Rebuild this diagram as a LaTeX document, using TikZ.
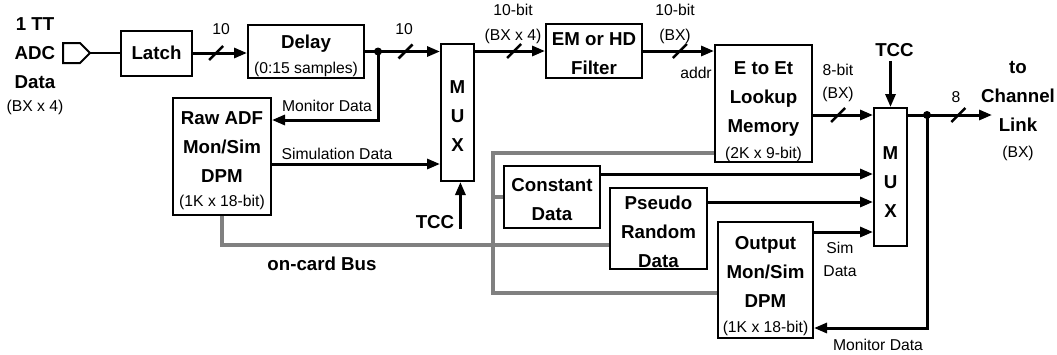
\documentclass[tikz,border=0pt]{standalone}
\usepackage{fontspec}
\setmainfont{Liberation Sans}
\usetikzlibrary{arrows.meta}

\newcommand{\smalltxt}[1]{{\fontsize{15.7}{19}\selectfont\mdseries #1}}
\newcommand{\firstline}[1]{\rule{0pt}{#1pt}}

\tikzset{
  blk/.style={draw, line width=2pt, align=center, inner sep=0pt,
    font=\fontsize{18.7}{29}\selectfont\bfseries},
  blbl/.style={inner sep=0pt, align=center, font=\fontsize{18.7}{29}\selectfont\bfseries},
  lbl/.style={inner sep=0pt, align=center, font=\fontsize{15.7}{25}\selectfont},
  conn/.style={line width=3pt, -{Triangle[length=13pt,width=10pt]}},
  gbus/.style={line width=4pt, draw=gray},
  busmark/.pic={\draw[line width=2.5pt,-] (-7,7) -- (7,-7);}
}

\begin{document}
\begin{tikzpicture}[x=1pt,y=-1pt]
\useasboundingbox (0,0) rectangle (1057,354);

% Entrada del ADC
\node[blbl] (adcdata) at (35,66.5) {1 TT\\ADC\\Data\\[-6pt]\smalltxt{(BX x 4)}};
\coordinate (adc) at (90,53);
\draw[line width=2pt] (adc) -- ++(-10,-10) -- ++(-17,0) -- ++(0,20) -- ++(17,0) -- cycle;

% Bloques
\node[blk, minimum width=71pt, minimum height=45pt] (latch) at (156.5,53) {Latch};
\node[blk, minimum width=116pt, minimum height=53pt] (delay) at (306,51.5) {\firstline{22.8}Delay\\[-4pt]\smalltxt{(0:15 samples)}};
\node[blk, minimum width=98pt, minimum height=117pt] (rawadf) at (222,156.5) {\firstline{21.4}Raw ADF\\Mon/Sim\\DPM\\[-5pt]\smalltxt{(1K x 18-bit)}};
\node[blk, minimum width=33pt, minimum height=137pt] (mux1) at (457.5,112.5) {\firstline{19.4}M\\U\\X};
\node[blk, minimum width=96pt, minimum height=54pt] (filter) at (594,51) {\firstline{18.4}EM or HD\\Filter};
\node[blk, minimum width=97pt, minimum height=117pt] (lookup) at (763.5,103.5) {\firstline{29.4}E to Et\\Lookup\\Memory\\[-3pt]\smalltxt{(2K x 9-bit)}};
\node[blk, minimum width=96pt, minimum height=62pt] (constant) at (552,197) {\firstline{18.4}Constant\\Data};
\node[blk, minimum width=97pt, minimum height=81pt] (pseudo) at (658.5,228.5) {\firstline{20.4}Pseudo\\Random\\Data};
\node[blk, minimum width=95pt, minimum height=116pt] (output) at (765.5,280) {\firstline{25.4}Output\\Mon/Sim\\DPM\\[-4pt]\smalltxt{(1K x 18-bit)}};
\node[blk, minimum width=33pt, minimum height=138pt] (mux2) at (890.5,177) {\firstline{23.4}M\\U\\X};

% Salida
\node[blbl] (chlink) at (1018,111.3) {to\\Channel\\Link\\[-3pt]\smalltxt{(BX)}};

% Bus interno (gris)
\draw[gbus] (rawadf.south) |- ([yshift=-16.5pt]pseudo.west);
\draw[gbus] ([yshift=10pt]lookup.south west) -| ([xshift=-10pt]constant.west) |- ([yshift=-13pt]output.west);
\draw[gbus] ([xshift=-10pt]constant.west) -- (constant.west);
\node[blbl] (buslbl) at (322,263.5) {on-card Bus};

% Camino de datos
\draw[line width=2pt] (adc) -- (latch.west);
\draw[conn] (latch.east) -- (latch.east -| delay.west) pic[pos=.43]{busmark};
\node[lbl] (w10a) at (221,29) {10};
\draw[conn] (delay.east) -- (delay.east -| mux1.west) pic[pos=.54]{busmark};
\node[lbl] (w10b) at (404,29) {10};
\coordinate (split1) at (378,51.5);
\fill (split1) circle (4pt);
\draw[conn] (split1) |- ([yshift=36.5pt]rawadf.east);
\node[lbl] (mon1) at (327,106) {Monitor Data};
\coordinate (simout) at ([yshift=-7.5pt]rawadf.east);
\draw[conn] (simout) -- (simout -| mux1.west);
\node[lbl] (sim1) at (337,154) {Simulation Data};

\node[blbl] (tcc1) at (435,222) {TCC};
\coordinate (tccin) at ([xshift=6pt]tcc1.south east);
\draw[conn] (tccin) -- (tccin |- mux1.south);

\draw[conn] (filter.west -| mux1.east) -- (filter.west) pic[pos=.56]{busmark};
\node[lbl] (w10c) at (513,24.1) {10-bit\\(BX x 4)};
\draw[conn] (filter.east) -- (filter.east -| lookup.west) pic[pos=.52]{busmark};
\node[lbl] (w10d) at (675,24.1) {10-bit\\(BX)};
\node[lbl] (addr) at (696,73) {addr};

\coordinate (lkout) at ([yshift=-11.5pt]lookup.east);
\draw[conn] (lkout) -- (lkout -| mux2.west) pic[pos=.42]{busmark};
\node[lbl] (w8a) at (838,83.1) {8-bit\\[-2pt](BX)};

% Entradas del segundo MUX
\coordinate (cdout) at ([yshift=-9pt]constant.north east);
\draw[conn] (cdout) -- (cdout -| mux2.west);
\coordinate (prout) at ([yshift=-15pt]pseudo.north east);
\draw[conn] (prout) -- (prout -| mux2.west);
\coordinate (odout) at ([yshift=-11pt]output.north east);
\draw[conn] (odout) -- (odout -| mux2.west);
\node[lbl] (sim2) at (840,259.5) {Sim\\[-2pt]Data};

\node[blbl] (tcc2) at (894.5,50) {TCC};
\draw[conn, shorten <=4pt] (mux2.north |- tcc2.south) -- (mux2.north);

% Salida y monitor
\coordinate (muxout) at (lkout -| mux2.east);
\coordinate (chin) at (992,115);
\draw[conn] (muxout) -- (chin) pic[pos=.6]{busmark};
\node[lbl] (w8b) at (956,97) {8};
\coordinate (split2) at (927,115);
\fill (split2) circle (4pt);
\draw[conn] (split2) |- ([yshift=11pt]output.south east);
\node[lbl] (mon2) at (878,345) {Monitor Data};
\end{tikzpicture}
\end{document}
